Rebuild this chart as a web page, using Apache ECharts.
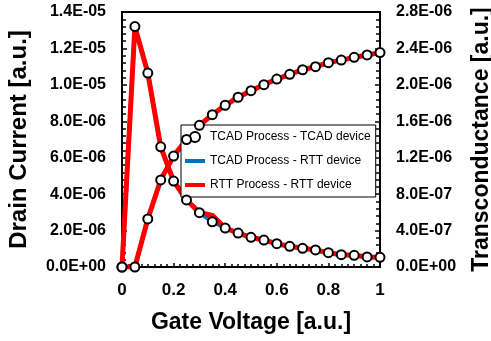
<!DOCTYPE html>
<html>
<head>
<meta charset="utf-8">
<script src="https://cdn.jsdelivr.net/npm/echarts@6/dist/echarts.min.js"></script>
<style>
  html, body { margin: 0; padding: 0; background: #fff; }
  #chart { width: 491px; height: 341px; }
</style>
</head>
<body>
<div id="chart"></div>
<script>
// gate voltage points
var gateVoltage = [0, 0.05, 0.1, 0.15, 0.2, 0.25, 0.3, 0.35, 0.4, 0.45, 0.5,
  0.55, 0.6, 0.65, 0.7, 0.75, 0.8, 0.85, 0.9, 0.95, 1];

// drain current (left axis)
var idTcadTcad = [0, 0, 2.64e-6, 4.78e-6, 6.09e-6, 7.0e-6, 7.78e-6, 8.36e-6, 8.88e-6, 9.32e-6, 9.68e-6,
  10.01e-6, 10.32e-6, 10.58e-6, 10.83e-6, 11.0e-6, 11.22e-6, 11.36e-6, 11.51e-6, 11.64e-6, 11.77e-6];
var idTcadRtt = idTcadTcad.slice();
var idRttRtt = idTcadTcad.slice();

// transconductance (right axis)
var gmTcadTcad = [0, 2.64e-6, 2.13e-6, 1.32e-6, 0.944e-6, 0.736e-6, 0.596e-6, 0.497e-6, 0.428e-6, 0.373e-6, 0.326e-6,
  0.296e-6, 0.256e-6, 0.227e-6, 0.205e-6, 0.187e-6, 0.157e-6, 0.135e-6, 0.128e-6, 0.11e-6, 0.106e-6];
var gmTcadRtt = gmTcadTcad.slice();
var gmRttRtt = [0, 2.64e-6, 2.13e-6, 1.32e-6, 0.944e-6, 0.736e-6, 0.6e-6, 0.567e-6, 0.428e-6, 0.373e-6, 0.326e-6,
  0.296e-6, 0.256e-6, 0.227e-6, 0.205e-6, 0.187e-6, 0.157e-6, 0.135e-6, 0.128e-6, 0.11e-6, 0.106e-6];

var names = ['TCAD Process - TCAD device', 'TCAD Process - RTT device', 'RTT Process - RTT device'];

function pairs(arr) {
  return gateVoltage.map(function (x, i) { return [x, arr[i]]; });
}

function sci(v) {
  var s = Number(v).toExponential(1).split('e');
  var e = parseInt(s[1], 10);
  var sign = e < 0 ? '-' : '+';
  var a = Math.abs(e);
  return s[0] + 'E' + sign + (a < 10 ? '0' + a : a);
}

var font = '"Liberation Sans", Arial, sans-serif';
var blue = '#0070c0';
var red = '#ff0000';
// thick short bar used as line icon in the legend
var lineIcon = 'path://M0,0 L20,0 L20,4 L0,4 Z';

function yAxisBase(max, interval, pos, title, gap, titleSize) {
  return {
    type: 'value',
    position: pos,
    min: 0,
    max: max,
    interval: interval,
    name: title,
    nameLocation: 'middle',
    nameRotate: 90,
    nameGap: gap,
    nameTextStyle: { fontFamily: font, fontWeight: 'bold', fontSize: titleSize, color: '#000' },
    axisLine: { show: true, onZero: false, lineStyle: { color: '#000', width: 2 } },
    axisTick: { show: true, inside: true, length: 5, lineStyle: { color: '#000', width: 1.5 } },
    minorTick: { show: true, splitNumber: 5, length: 4, lineStyle: { color: '#000', width: 1.5 } },
    splitLine: { show: false },
    axisLabel: {
      margin: 16, fontFamily: font, fontWeight: 'bold', fontSize: 16, color: '#000',
      formatter: sci
    }
  };
}

var chart = echarts.init(document.getElementById('chart'));
chart.setOption({
  animation: false,
  backgroundColor: '#fff',
  grid: {
    left: 122, right: 111, top: 12, bottom: 74,
    outerBoundsMode: 'none',
    containLabel: false,
    show: true, borderColor: '#000', borderWidth: 2
  },
  legend: {
    orient: 'vertical',
    left: 181,
    top: 125,
    backgroundColor: '#fff',
    borderColor: '#000',
    borderWidth: 1,
    borderRadius: 0,
    padding: [6, 5, 6, 4],
    itemWidth: 20,
    itemHeight: 10,
    itemGap: 12,
    textStyle: { fontFamily: font, fontSize: 12, color: '#000' },
    data: [
      { name: names[0], icon: 'circle', itemStyle: { color: '#fff', borderColor: '#000', borderWidth: 2 } },
      { name: names[1], icon: lineIcon, itemStyle: { color: blue, borderWidth: 0 } },
      { name: names[2], icon: lineIcon, itemStyle: { color: red, borderWidth: 0 } }
    ]
  },
  xAxis: {
    type: 'value',
    min: 0,
    max: 1,
    interval: 0.2,
    name: 'Gate Voltage [a.u.]',
    nameLocation: 'middle',
    nameGap: 44,
    nameTextStyle: { fontFamily: font, fontWeight: 'bold', fontSize: 23, color: '#000' },
    axisLine: { show: true, onZero: false, lineStyle: { color: '#000', width: 2 } },
    axisTick: { show: true, inside: true, length: 4, lineStyle: { color: '#000', width: 1.5 } },
    minorTick: { show: true, splitNumber: 8, length: 3, lineStyle: { color: '#000', width: 1.5 } },
    splitLine: { show: false },
    axisLabel: { margin: 15, fontFamily: font, fontWeight: 'bold', fontSize: 17, color: '#000' }
  },
  yAxis: [
    yAxisBase(1.4e-5, 2e-6, 'left', 'Drain Current [a.u.]', 91, 24),
    yAxisBase(2.8e-6, 4e-7, 'right', 'Transconductance [a.u.]', 90, 23)
  ],
  series: [
    {
      name: names[1], type: 'line', yAxisIndex: 0, data: pairs(idTcadRtt), symbol: 'none', z: 2,
      lineStyle: { color: blue, width: 4 }, itemStyle: { color: blue }
    },
    {
      name: names[1], type: 'line', yAxisIndex: 1, data: pairs(gmTcadRtt), symbol: 'none', z: 2,
      lineStyle: { color: blue, width: 4 }, itemStyle: { color: blue }
    },
    {
      name: names[2], type: 'line', yAxisIndex: 0, data: pairs(idRttRtt), symbol: 'none', z: 3,
      lineStyle: { color: red, width: 5 }, itemStyle: { color: red }
    },
    {
      name: names[2], type: 'line', yAxisIndex: 1, data: pairs(gmRttRtt), symbol: 'none', z: 3,
      lineStyle: { color: red, width: 5 }, itemStyle: { color: red }
    },
    {
      name: names[0], type: 'scatter', yAxisIndex: 0, data: pairs(idTcadTcad), symbol: 'circle', symbolSize: 9, z: 4,
      itemStyle: { color: '#fff', borderColor: '#000', borderWidth: 2, opacity: 1 }
    },
    {
      name: names[0], type: 'scatter', yAxisIndex: 1, data: pairs(gmTcadTcad), symbol: 'circle', symbolSize: 9, z: 4,
      itemStyle: { color: '#fff', borderColor: '#000', borderWidth: 2, opacity: 1 }
    }
  ]
});
</script>
</body>
</html>
